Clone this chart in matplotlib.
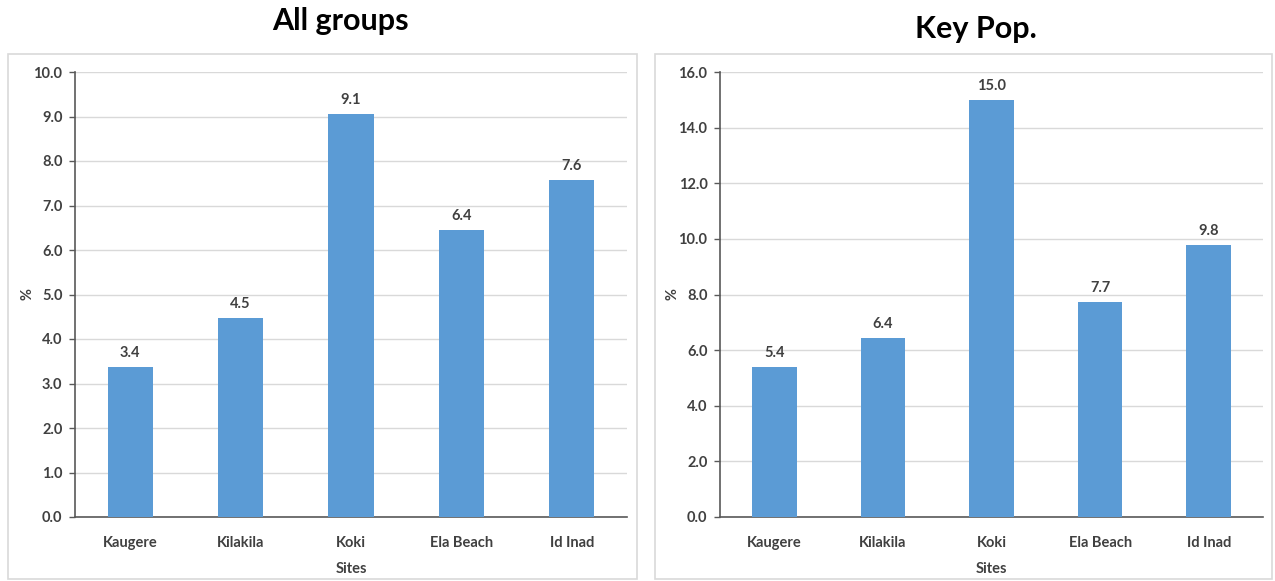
import matplotlib
matplotlib.use("Agg")
import matplotlib.pyplot as plt
from matplotlib.patches import Rectangle

# Survey results by site
sites = ["Kaugere", "Kilakila", "Koki", "Ela Beach", "Id Inad"]
all_groups = [3.37, 4.47, 9.06, 6.44, 7.58]
key_pop = [5.40, 6.43, 15.0, 7.73, 9.78]

W, H = 1275, 581
BAR = "#5b9bd5"
TXT = "#404040"
GRID = "#d9d9d9"

plt.rcParams["font.family"] = ["Lato", "DejaVu Sans"]

fig = plt.figure(figsize=(W / 100, H / 100), dpi=100)


def px_box(left, top, right, bottom):
    return [left / W, 1 - bottom / H, (right - left) / W, (bottom - top) / H]


def panel(frame, box, values, ymax, title, title_xy):
    # light frame around each chart
    l, t, r, b = frame
    fig.patches.append(Rectangle((l / W, 1 - b / H), (r - l) / W, (b - t) / H,
                                 transform=fig.transFigure, fill=False,
                                 edgecolor=GRID, lw=1.2))
    fig.text(title_xy[0] / W, 1 - title_xy[1] / H, title, ha="center", va="center",
             fontsize=22, fontweight="bold", color="black")

    ax = fig.add_axes(px_box(*box))
    x = range(len(sites))
    bars = ax.bar(x, values, width=0.41, color=BAR, zorder=3)
    for rect, v in zip(bars, values):
        ax.annotate(f"{v:.1f}", (rect.get_x() + rect.get_width() / 2, v),
                    xytext=(0, 5), textcoords="offset points", ha="center", va="bottom",
                    fontsize=10.5, fontweight="bold", color=TXT)

    ax.set_xlim(-0.5, len(sites) - 0.5)
    ax.set_ylim(0, ymax)
    step = 1.0 if ymax <= 10 else 2.0
    ticks = [i * step for i in range(int(ymax / step) + 1)]
    ax.set_yticks(ticks)
    ax.set_yticklabels([f"{t:.1f}" for t in ticks])
    ax.set_xticks(list(x))
    ax.set_xticklabels(sites)
    ax.tick_params(axis="y", length=4, width=1, color="#595959", labelsize=10.5,
                   labelcolor=TXT, pad=5)
    ax.tick_params(axis="x", length=0, labelsize=10.5, labelcolor=TXT, pad=14)
    for lab in ax.get_xticklabels() + ax.get_yticklabels():
        lab.set_fontweight("bold")

    ax.grid(axis="y", color=GRID, lw=1, zorder=0)
    for s in ("top", "right"):
        ax.spines[s].set_visible(False)
    for s in ("left", "bottom"):
        ax.spines[s].set_color("#595959")
        ax.spines[s].set_linewidth(1.2)

    ax.set_xlabel("Sites", fontsize=10.5, fontweight="bold", color=TXT, labelpad=8)
    ax.set_ylabel("%", fontsize=10.5, fontweight="bold", color=TXT, labelpad=-1)
    return ax


panel((8, 54, 637, 579), (75, 72, 627, 517), all_groups, 10.0, "All groups", (340, 21))
panel((655, 54, 1272, 579), (720, 72, 1263, 517), key_pop, 16.0, "Key Pop.", (976, 29))

fig.savefig("out.png", dpi=100)
